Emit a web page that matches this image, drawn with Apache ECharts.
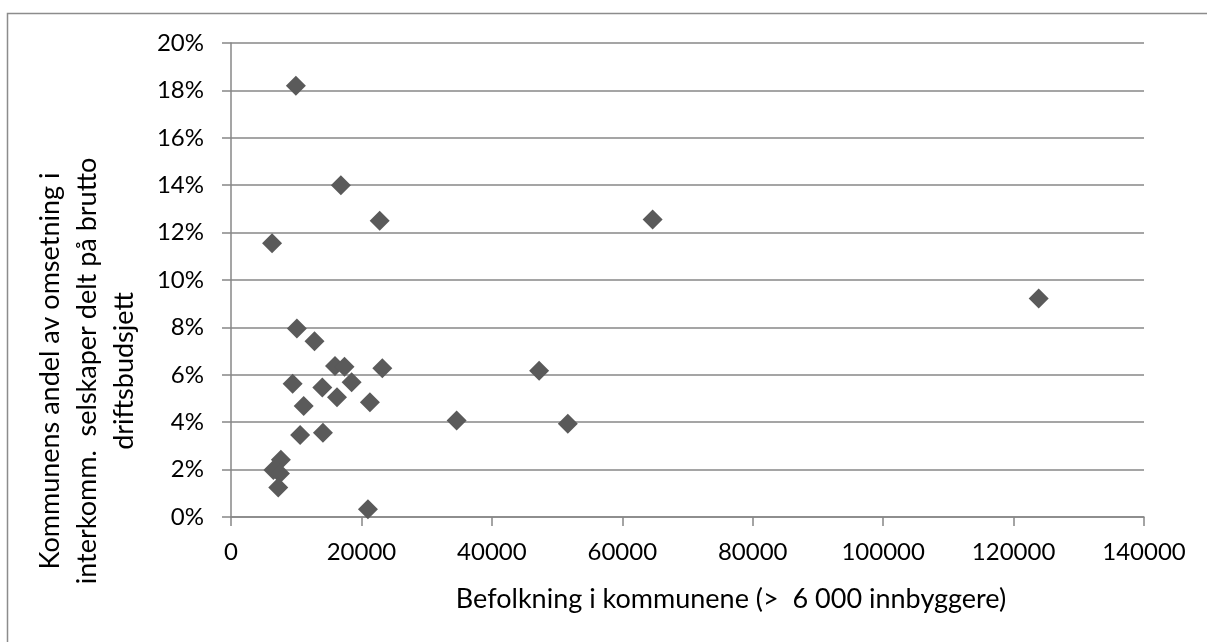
<!DOCTYPE html>
<html>
<head>
<meta charset="utf-8">
<title>Befolkning og andel interkommunale selskaper</title>
<script src="https://cdn.jsdelivr.net/npm/echarts@6/dist/echarts.min.js"></script>
<style>
  html, body { margin: 0; padding: 0; background: #ffffff; }
  #chart { width: 1207px; height: 642px; }
</style>
</head>
<body>
<div id="chart"></div>
<script>
// Population per municipality (x) and share of turnover in inter-municipal companies (y, %)
const population = [
  9950, 16850, 22800, 6300, 64650, 123850,
  10100, 12800, 15950, 17400, 23200, 9450, 18500, 14000, 16250,
  11150, 21300, 10600, 14100, 7650, 6500, 7500, 7250, 21000,
  47250, 34600, 51650
];
const sharePct = [
  18.2, 14.0, 12.5, 11.55, 12.55, 9.22,
  7.95, 7.42, 6.37, 6.34, 6.28, 5.62, 5.69, 5.46, 5.05,
  4.68, 4.84, 3.46, 3.56, 2.42, 1.98, 1.84, 1.25, 0.33,
  6.17, 4.07, 3.93
];
const xTicks = { min: 0, max: 140000, interval: 20000 };
const yTicks = { min: 0, max: 20, interval: 2 };

const xTitle = 'Befolkning i kommunene (>  6 000 innbyggere)';
const yTitle = 'Kommunens andel av omsetning i\ninterkomm.  selskaper delt på brutto\ndriftsbudsjett';

const points = population.map((p, i) => [p, sharePct[i]]);

const FONT = 'Lato, "Open Sans", sans-serif';
const GRAY = '#878787';

const chart = echarts.init(document.getElementById('chart'), null, { renderer: 'canvas' });
chart.setOption({
  backgroundColor: '#ffffff',
  animation: false,
  textStyle: { fontFamily: FONT },
  grid: { left: 231, top: 43, right: 63, bottom: 125, containLabel: false },
  xAxis: {
    type: 'value',
    min: xTicks.min, max: xTicks.max, interval: xTicks.interval,
    axisLine: { show: true, onZero: false, lineStyle: { color: GRAY, width: 1.5 } },
    axisTick: { show: true, length: 9, lineStyle: { color: GRAY, width: 1.5 } },
    axisLabel: { color: '#000', fontSize: 24, fontFamily: FONT, margin: 23, formatter: v => String(v) },
    splitLine: { show: false }
  },
  yAxis: {
    type: 'value',
    min: yTicks.min, max: yTicks.max, interval: yTicks.interval,
    axisLine: { show: true, lineStyle: { color: GRAY, width: 1.5 } },
    axisTick: { show: true, length: 9, lineStyle: { color: GRAY, width: 1.5 } },
    axisLabel: { color: '#000', fontSize: 24, fontFamily: FONT, margin: 27, formatter: '{value}%' },
    splitLine: { show: true, lineStyle: { color: GRAY, width: 1.5 } }
  },
  series: [{
    type: 'scatter',
    data: points,
    symbol: 'diamond',
    symbolSize: 20,
    itemStyle: { color: '#5a5a5a', opacity: 1 }
  }],
  graphic: [
    {
      type: 'rect',
      shape: { x: 7.5, y: 13.5, width: 1300, height: 700 },
      style: { fill: 'none', stroke: '#8c8c8c', lineWidth: 1.5 },
      silent: true
    },
    {
      type: 'text',
      x: 731, y: 599,
      style: {
        text: xTitle, fill: '#000', font: '27px ' + FONT,
        textAlign: 'center', textVerticalAlign: 'middle'
      }
    },
    {
      type: 'text',
      x: 87, y: 371,
      rotation: Math.PI / 2,
      style: {
        text: yTitle, fill: '#000', font: '27px ' + FONT,
        textAlign: 'center', textVerticalAlign: 'middle', lineHeight: 37
      }
    }
  ]
});
</script>
</body>
</html>
